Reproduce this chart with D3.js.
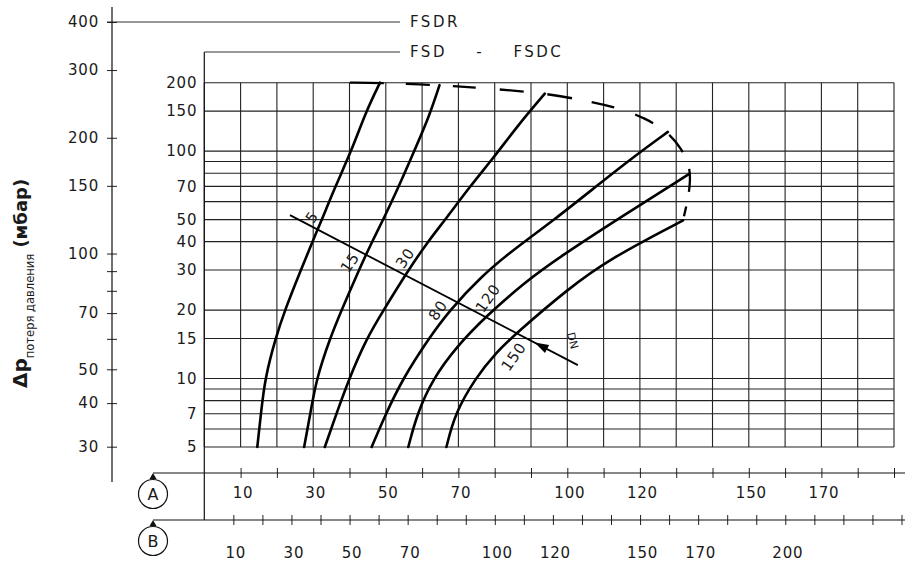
<!DOCTYPE html>
<html>
<head>
<meta charset="utf-8">
<script src="https://cdn.jsdelivr.net/npm/d3@7"></script>
<style>
body{margin:0;background:#fff;}
svg{display:block;}
text{font-family:"DejaVu Sans",sans-serif;fill:#1a1a1a;}
</style>
</head>
<body>
<div id="chart"></div>
<script>
// outer pressure axis (mbar)
var outerTicks = [30,40,50,60,70,80,90,100,150,200,300,400];
var outerLabels = [30,40,50,70,100,150,200,300,400];

// inner pressure grid (mbar)
var dpGrid = [5,6,7,8,9,10,15,20,30,40,50,60,70,80,90,100,150,200];
var dpLabels = [5,7,10,15,20,30,40,50,70,100,150,200];

// flow scales A and B
var flowAGrid = d3.range(0,200,10);
var flowATicks = d3.range(10,200,10);
var flowALabels = [10,30,50,70,100,120,150,170];
var flowBTicks = d3.range(10,250,10);
var flowBLabels = [10,30,50,70,100,120,150,170,200];

// curves: [flow A, dp mbar]
var curveNames = ['5','15','30','80','120','150'];
var curve5 = [[14.6,5],[15.6,7],[16.7,10],[19.6,15],[22.2,20],[26.6,30],[29.8,40],[32.4,50],[36.1,70],[40.5,100],[44.6,150],[48.4,200]];
var curve15 = [[27.5,5],[29.2,7],[30.9,10],[34.6,15],[37.8,20],[42.6,30],[46.2,40],[49.3,50],[53.6,70],[57.8,100],[61.8,140],[64.8,195]];
var curve30 = [[33.2,5],[36.4,7],[39.9,10],[44.7,15],[49.4,20],[56.2,30],[61.6,40],[66.4,50],[73.2,70],[79.8,94],[86.4,130],[93.8,179]];
var curve80 = [[46.1,5],[50.0,7],[54.7,10],[61.8,15],[67.6,20],[76.2,28],[84.3,36],[96.5,50],[108.9,72],[118.5,95],[127.7,121.5]];
var curve120 = [[56.2,5],[58.6,7],[63.0,10],[69.5,13.8],[77.3,18.6],[88.4,26.6],[97.6,34],[114.9,51.5],[133.7,79.6]];
var curve150 = [[66.7,5],[69.0,7],[74.6,10],[80.3,13],[86.3,16],[99.8,24.5],[111.6,33.6],[131.9,49.6]];
var curves = [curve5,curve15,curve30,curve80,curve120,curve150];

// dashed limit line
var limitLine = [[40.1,200],[48.4,200],[62.1,196],[74.5,191],[87.7,183],[93.8,179],[101.5,171],[113.1,157],[121.5,140],[127.7,121.5],[131.6,102],[133.7,86],[133.9,74],[133.3,62],[132.4,54],[131.9,49.6]];

// reading line (DN direction)
var readLine = [[23.6,52.3],[102.9,11.46]];

// curve label anchors [flow A, dp]
var labelAt = [[29.6,51.4],[40.1,32.4],[55.3,33.9],[64.3,20],[78.1,22.6],[85.2,12.5]];
var dnAt = [101.5,14.7];

var W = 905, H = 566;
var svg = d3.select('#chart').append('svg').attr('width',W).attr('height',H);

var xA = d3.scaleLinear().domain([0,190]).range([204.3,894]);
var xB = d3.scaleLinear().domain([0,240]).range([204.3,901.5]);
var y = d3.scaleLog().domain([5,200]).range([447,82.7]);
var yOuter = d3.scaleLog().domain([30,50,400]).range([446.7,369.3,22]);

var frameTop = 52, axisAy = 473, axisBy = 520;

// grid
var grid = svg.append('g').attr('stroke','#222').attr('stroke-width',1.1);
grid.selectAll('.h').data(dpGrid).enter().append('line')
    .attr('x1',xA(0)).attr('x2',xA(190))
    .attr('y1',function(d){return y(d);}).attr('y2',function(d){return y(d);});
grid.selectAll('.v').data(flowAGrid).enter().append('line')
    .attr('x1',function(d){return xA(d);}).attr('x2',function(d){return xA(d);})
    .attr('y1',y(200)).attr('y2',y(5));

// frame
svg.append('line').attr('x1',xA(0)).attr('x2',xA(0)).attr('y1',frameTop).attr('y2',axisBy)
    .attr('stroke','#111').attr('stroke-width',1.2);
svg.append('line').attr('x1',xA(0)).attr('x2',400).attr('y1',frameTop).attr('y2',frameTop)
    .attr('stroke','#333').attr('stroke-width',1.1);
svg.append('line').attr('x1',107).attr('x2',400).attr('y1',yOuter(400)).attr('y2',yOuter(400))
    .attr('stroke','#333').attr('stroke-width',1.1);
svg.append('text').attr('x',410).attr('y',yOuter(400)).attr('dy','0.36em')
    .attr('font-size',15).attr('letter-spacing',2.5).text('FSDR');
svg.append('text').attr('x',410).attr('y',frameTop).attr('dy','0.36em')
    .attr('font-size',15).attr('letter-spacing',2.5).attr('word-spacing',22).text('FSD - FSDC');

// outer axis
var gOuter = svg.append('g').attr('transform','translate(112,0)')
    .call(d3.axisLeft(yOuter).tickValues(outerTicks).tickSize(5).tickPadding(8)
        .tickFormat(function(d){return outerLabels.indexOf(d)>=0 ? d : '';}));
gOuter.select('.domain').remove();
gOuter.append('line').attr('x1',0).attr('x2',0).attr('y1',7).attr('y2',482)
    .attr('stroke','#111').attr('stroke-width',1.2);
gOuter.selectAll('.tick line').attr('x1',5).attr('stroke','#222');
gOuter.selectAll('.tick text').attr('font-size',15).attr('letter-spacing',0.8)
    .attr('font-family','DejaVu Sans').attr('fill','#1a1a1a');

// inner dp labels
var gDp = svg.append('g').attr('transform','translate('+xA(0)+',0)')
    .call(d3.axisLeft(y).tickValues(dpLabels).tickSize(0).tickPadding(7)
        .tickFormat(function(d){return d;}));
gDp.select('.domain').remove();
gDp.selectAll('.tick text').attr('font-size',15).attr('letter-spacing',0.8)
    .attr('font-family','DejaVu Sans').attr('fill','#1a1a1a');

// A and B axes
function flowAxis(scale,ticks,labels,yy,labelY){
    var g = svg.append('g').attr('transform','translate(0,'+yy+')')
        .call(d3.axisBottom(scale).tickValues(ticks).tickSize(5)
            .tickFormat(function(d){return labels.indexOf(d)>=0 ? d : '';}));
    g.select('.domain').remove();
    g.append('line').attr('x1',153).attr('x2',905).attr('y1',0).attr('y2',0)
        .attr('stroke','#111').attr('stroke-width',1.2);
    g.selectAll('.tick line').attr('y1',-5).attr('stroke','#222');
    g.selectAll('.tick text').attr('y',labelY).attr('dy','0.36em').attr('x',2)
        .attr('font-size',15).attr('letter-spacing',0.8)
        .attr('font-family','DejaVu Sans').attr('fill','#1a1a1a');
    return g;
}
flowAxis(xA,flowATicks,flowALabels,axisAy,20);
flowAxis(xB,flowBTicks,flowBLabels,axisBy,33);

// A / B markers
[['A',axisAy],['B',axisBy]].forEach(function(m){
    var g = svg.append('g').attr('transform','translate(153,'+m[1]+')');
    g.append('path').attr('d','M0,0 L-3.5,6 L3.5,6 Z').attr('fill','#111');
    g.append('circle').attr('cx',0).attr('cy',21).attr('r',14.5)
        .attr('fill','none').attr('stroke','#111').attr('stroke-width',1.2);
    g.append('text').attr('x',0).attr('y',21).attr('dy','0.36em').attr('text-anchor','middle')
        .attr('font-size',16).text(m[0]);
});

// curves
var line = d3.line().x(function(d){return xA(d[0]);}).y(function(d){return y(d[1]);})
    .curve(d3.curveBasis);
svg.append('g').selectAll('path').data(curves).enter().append('path')
    .attr('d',line).attr('fill','none').attr('stroke','#000').attr('stroke-width',2.6)
    .attr('stroke-linecap','round');

svg.append('path').datum(limitLine).attr('d',line).attr('fill','none')
    .attr('stroke','#000').attr('stroke-width',2.3)
    .attr('stroke-dasharray','34 22 24 23 23 24 24 24 25 20 23 22 20 20 22 18 23 15 10 40');

// reading line with arrow
var p0 = [xA(readLine[0][0]),y(readLine[0][1])], p1 = [xA(readLine[1][0]),y(readLine[1][1])];
svg.append('line').attr('x1',p0[0]).attr('y1',p0[1]).attr('x2',p1[0]).attr('y2',p1[1])
    .attr('stroke','#000').attr('stroke-width',1.8);
var dx = p0[0]-p1[0], dy = p0[1]-p1[1], len = Math.sqrt(dx*dx+dy*dy);
var ux = dx/len, uy = dy/len;
var tip = [p0[0]+(p1[0]-p0[0])*0.85, p0[1]+(p1[1]-p0[1])*0.85];
var bx = tip[0]-ux*14, by = tip[1]-uy*14;
svg.append('path')
    .attr('d','M'+tip[0]+','+tip[1]+' L'+(bx-uy*4.5)+','+(by+ux*4.5)+' L'+(bx+uy*4.5)+','+(by-ux*4.5)+' Z')
    .attr('fill','#000');

// curve labels
svg.append('g').selectAll('text').data(labelAt).enter().append('text')
    .attr('transform',function(d){return 'translate('+xA(d[0])+','+y(d[1])+') rotate(-55)';})
    .attr('text-anchor','middle').attr('dy','0.36em').attr('font-size',15).attr('letter-spacing',0.8)
    .text(function(d,i){return curveNames[i];});
svg.append('text')
    .attr('transform','translate('+xA(dnAt[0])+','+y(dnAt[1])+') rotate(75)')
    .attr('text-anchor','middle').attr('dy','0.36em').attr('font-size',11).text('DN');

// y title
var title = svg.append('text').attr('transform','translate(27,388) rotate(-90)')
    .attr('font-family','Liberation Sans, Arial, sans-serif').attr('fill','#222');
title.append('tspan').attr('font-weight','bold').attr('font-size',20).text('Δp');
title.append('tspan').attr('font-size',11.5).attr('dy',7).text('потеря давления');
title.append('tspan').attr('font-weight','bold').attr('font-size',18).attr('dy',-7).text(' (мбар)');
</script>
</body>
</html>
